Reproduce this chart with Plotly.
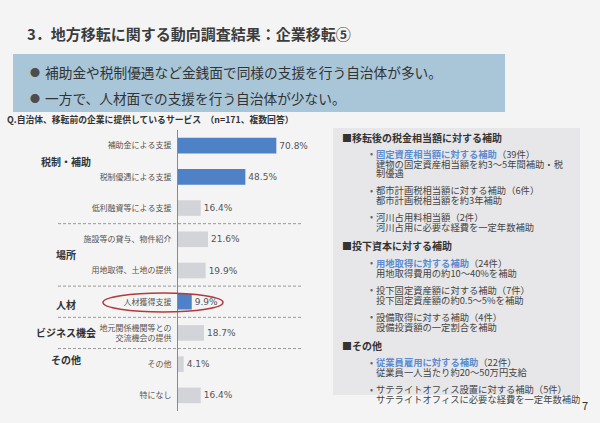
import plotly.graph_objects as go

# ---- data ----
categories = [
    "補助金による支援",
    "税制優遇による支援",
    "低利融資等による支援",
    "施設等の貸与、物件紹介",
    "用地取得、土地の提供",
    "人材獲得支援",
    "地元関係機関等との<br>交流機会の提供",
    "その他",
    "特になし",
]
values = [70.8, 48.5, 16.4, 21.6, 19.9, 9.9, 18.7, 4.1, 16.4]
highlight = [True, True, False, False, False, True, False, False, False]

group_names = ["税制・補助", "場所", "人材", "ビジネス機会", "その他"]
group_rows = [0.5, 3.5, 5.1, 6.0, 6.85]
separators = [2.5, 4.5, 5.5, 6.5]

title = "3．地方移転に関する動向調査結果：企業移転⑤"
summary = [
    "補助金や税制優遇など金銭面で同様の支援を行う自治体が多い。",
    "一方で、人材面での支援を行う自治体が少ない。",
]
question = "Q.自治体、移転前の企業に提供しているサービス　（n=171、複数回答）"

# (kind, main text, suffix, highlighted)
right_lines = [
    ("head", "■移転後の税金相当額に対する補助", "", False),
    ("item", "固定資産相当額に対する補助", "（39件）", True),
    ("sub", "建物の固定資産相当額を約3～5年間補助・税", "", False),
    ("sub", "制優遇", "", False),
    ("item", "都市計画税相当額に対する補助", "（6件）", False),
    ("sub", "都市計画税相当額を約3年補助", "", False),
    ("item", "河川占用料相当額", "（2件）", False),
    ("sub", "河川占用に必要な経費を一定年数補助", "", False),
    ("head", "■投下資本に対する補助", "", False),
    ("item", "用地取得に対する補助", "（24件）", True),
    ("sub", "用地取得費用の約10～40%を補助", "", False),
    ("item", "投下固定資産額に対する補助", "（7件）", False),
    ("sub", "投下固定資産額の約0.5～5%を補助", "", False),
    ("item", "設備取得に対する補助", "（4件）", False),
    ("sub", "設備投資額の一定割合を補助", "", False),
    ("head", "■その他", "", False),
    ("item", "従業員雇用に対する補助", "（22件）", True),
    ("sub", "従業員一人当たり約20～50万円支給", "", False),
    ("item", "サテライトオフィス設置に対する補助", "（5件）", False),
    ("sub", "サテライトオフィスに必要な経費を一定年数補助", "", False),
]

W, H = 600, 423
FONT = "Noto Sans CJK JP"
BLUE = "#4f81c7"
GRAY = "#d3d4da"
TEXT = "#3a3a3a"


def px(x):
    return x / W


def py(y):
    return 1 - y / H


fig = go.Figure()
fig.add_trace(go.Bar(
    x=values,
    y=list(range(len(values))),
    orientation="h",
    width=0.5,
    marker=dict(color=[BLUE if h else GRAY for h in highlight], line=dict(width=0)),
    text=[f"{v:.1f}%" for v in values],
    textposition="outside",
    textfont=dict(size=9, color="#555555", family="DejaVu Sans"),
    cliponaxis=False,
    hoverinfo="skip",
))

shapes = []
annotations = []

# header blue box
shapes.append(dict(type="rect", xref="paper", yref="paper",
                   x0=px(13), x1=px(505), y0=py(112), y1=py(54),
                   fillcolor="#a9c6d9", line=dict(width=0), layer="below"))
# right grey panel
shapes.append(dict(type="rect", xref="paper", yref="paper",
                   x0=px(333), x1=px(580), y0=py(395), y1=py(128),
                   fillcolor="#e7e7e9", line=dict(width=0), layer="below"))

for s in separators:
    shapes.append(dict(type="line", xref="paper", yref="y",
                       x0=px(58), x1=px(303), y0=s, y1=s,
                       line=dict(color="#9a9a9a", width=1, dash="3px,2px")))

# red ellipse around 人材獲得支援
shapes.append(dict(type="circle", xref="paper", yref="paper",
                   x0=px(103), x1=px(223), y0=py(312), y1=py(293),
                   line=dict(color="#b33a3a", width=1.5)))

annotations.append(dict(text=f"<b>{title}</b>", x=px(25), y=py(33),
                        font=dict(size=15, color="#3c3c3c")))
for i, line in enumerate(summary):
    yy = 72 + i * 26
    annotations.append(dict(text="●", x=px(35), y=py(yy), xanchor="center",
                            font=dict(size=10, color="#4d4d4d")))
    annotations.append(dict(text=line, x=px(43), y=py(yy), font=dict(size=13.7, color="#333333")))
annotations.append(dict(text=f"<b>{question}</b>", x=px(5), y=py(119),
                        font=dict(size=8.8, color="#333333")))

for name, row in zip(group_names, group_rows):
    annotations.append(dict(text=f"<b>{name}</b>", x=px(66), y=row, yref="y",
                            xanchor="center", font=dict(size=10, color="#333333")))

# right panel text
y = 137
prev = None
for kind, main, suffix, hl in right_lines:
    if prev is not None:
        if kind == "head":
            y += 19
        elif kind == "item":
            y += 16.5 if prev == "head" else 17
        else:
            y += 10 if prev == "item" else 9.5
    if kind == "head":
        annotations.append(dict(text=f"<b>{main}</b>", x=px(340), y=py(y),
                                font=dict(size=10, color="#333333")))
    else:
        if kind == "item":
            annotations.append(dict(text="•", x=px(368), y=py(y),
                                    font=dict(size=9, color="#666666")))
        if hl:
            txt = f"<span style='color:#5b8bd0'><b>{main}</b></span>{suffix}"
        else:
            txt = main + suffix
        annotations.append(dict(text=txt, x=px(374), y=py(y),
                                font=dict(size=9.3, color="#444444")))
    prev = kind

annotations.append(dict(text="7", x=px(585), y=py(405), xanchor="center",
                        font=dict(size=11, color="#333333")))

for a in annotations:
    a.setdefault("xref", "paper")
    a.setdefault("yref", "paper")
    a.setdefault("xanchor", "left")
    a.setdefault("yanchor", "middle")
    a["showarrow"] = False

fig.update_layout(
    width=W, height=H,
    margin=dict(l=0, r=0, t=0, b=0),
    paper_bgcolor="#f4f4f4",
    plot_bgcolor="rgba(0,0,0,0)",
    font=dict(family=FONT, color=TEXT),
    showlegend=False,
    bargap=0.5,
    shapes=shapes,
    annotations=annotations,
    xaxis=dict(domain=[px(178), px(303)], range=[0, 90], visible=False, fixedrange=True),
    yaxis=dict(
        domain=[py(411), py(130)],
        range=[8.5, -0.5],
        tickvals=list(range(len(categories))),
        ticktext=categories,
        tickfont=dict(size=8, color="#555555"),
        showline=True, linecolor="#8a8a8a", linewidth=1,
        ticks="", showgrid=False, zeroline=False,
        ticklabelstandoff=4,
        fixedrange=True,
    ),
)

# drop the default body margin so the 600x423 figure sits at the window's top-left
fig.write_html("out.html", config={"displayModeBar": False},
               post_script="document.body.style.margin='0';document.body.style.overflow='hidden';")
